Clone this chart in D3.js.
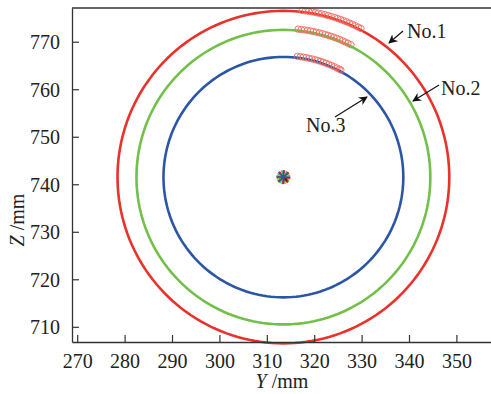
<!DOCTYPE html>
<html>
<head>
<meta charset="utf-8">
<script src="https://cdn.jsdelivr.net/npm/d3@7"></script>
<style>
  body { margin: 0; background: #fff; }
  text { font-family: "Liberation Serif", "DejaVu Serif", serif; fill: #222; }
</style>
</head>
<body>
<div id="chart"></div>
<script>
// rings: name, colour, radius (mm), centre
const ringNames = ["No.1", "No.2", "No.3"];
const ringColors = ["#e8322b", "#72c04a", "#2b56a6"];
const ringRadii = [35.0, 31.0, 25.3];
const centerY = 313.5, centerZ = 741.5;

// measured points on each ring, angle in degrees from the top (clockwise)
const markAngles = [
  [6.4, 7.6, 8.7, 9.9, 11.0, 12.1, 13.2, 14.4, 15.5, 16.6, 17.8, 18.9, 20.0, 21.1, 22.2, 23.3, 24.4, 25.5, 26.6, 27.6],
  [5.7, 6.9, 8.1, 9.3, 10.5, 11.6, 12.8, 14.0, 15.2, 16.4, 17.5, 18.7, 19.9, 21.1, 22.3, 23.5, 24.6, 25.8, 27.1],
  [6.6, 8.0, 9.4, 10.8, 12.2, 13.6, 15.0, 16.4, 17.8, 19.2, 20.6, 22.0, 23.4, 24.8, 26.2, 27.4, 28.3]
];

// centre estimates, spoke angles per colour
const spokeAngles = [
  [10, 55, 100, 145, 190, 235, 280, 325],
  [30, 75, 120, 165, 210, 255, 300, 345],
  [0, 45, 90, 135, 180, 225, 270, 315]
];

const xTicks = [270, 280, 290, 300, 310, 320, 330, 340, 350];
const yTicks = [710, 720, 730, 740, 750, 760, 770];

// annotation: label position, arrow tail and tip
const labels = [
  { name: "No.1", tx: 407, ty: 38, ax: 403, ay: 31, bx: 389, by: 43 },
  { name: "No.2", tx: 441, ty: 95, ax: 439, ay: 85, bx: 413, by: 101 },
  { name: "No.3", tx: 306, ty: 132, ax: 335, ay: 117, bx: 367, by: 97 }
];

const W = 491, H = 394;
const m = { left: 72, right: 491, top: 8, bottom: 342 };

const svg = d3.select("#chart").append("svg")
  .attr("width", W).attr("height", H);

const x = d3.scaleLinear().domain([268.9, 357.3]).range([m.left, m.right]);
const y = d3.scaleLinear().domain([706.8, 777.1]).range([m.bottom, m.top]);

svg.append("defs").append("marker")
  .attr("id", "arr")
  .attr("viewBox", "0 0 10 10")
  .attr("refX", 9).attr("refY", 5)
  .attr("markerWidth", 9).attr("markerHeight", 9)
  .attr("markerUnits", "userSpaceOnUse")
  .attr("orient", "auto")
  .append("path").attr("d", "M0,0 L10,5 L0,10 L3,5 Z").attr("fill", "#111");

// rings
const circ = d3.range(0, 361, 2);
ringRadii.forEach((r, i) => {
  const line = d3.line()
    .x(a => x(centerY + r * Math.sin(a * Math.PI / 180)))
    .y(a => y(centerZ + r * Math.cos(a * Math.PI / 180)));
  svg.append("path")
    .attr("d", line(circ))
    .attr("fill", "none")
    .attr("stroke", ringColors[i])
    .attr("stroke-width", 2.6);
});

// measured points
markAngles.forEach((angs, i) => {
  const r = ringRadii[i] + 0.3;
  svg.append("g").selectAll("circle")
    .data(angs)
    .join("circle")
    .attr("cx", a => x(centerY + r * Math.sin(a * Math.PI / 180)))
    .attr("cy", a => y(centerZ + r * Math.cos(a * Math.PI / 180)))
    .attr("r", 3.2)
    .attr("fill", "none")
    .attr("stroke", "#f06a5e")
    .attr("stroke-width", 0.9);
});

// centre star
spokeAngles.forEach((angs, i) => {
  svg.append("g").selectAll("line")
    .data(angs)
    .join("line")
    .attr("x1", x(centerY)).attr("y1", y(centerZ))
    .attr("x2", a => x(centerY) + 7 * Math.sin(a * Math.PI / 180))
    .attr("y2", a => y(centerZ) - 7 * Math.cos(a * Math.PI / 180))
    .attr("stroke", ringColors[i])
    .attr("stroke-width", 1.6);
});
svg.append("rect")
  .attr("x", x(centerY) + 1).attr("y", y(centerZ) + 1)
  .attr("width", 3).attr("height", 3)
  .attr("fill", "#7a1a14");

// axes
const xAxis = svg.append("g")
  .attr("transform", `translate(0,${m.bottom})`)
  .call(d3.axisBottom(x).tickValues(xTicks).tickSizeInner(-7).tickSizeOuter(0).tickPadding(12));
const yAxis = svg.append("g")
  .attr("transform", `translate(${m.left},0)`)
  .call(d3.axisLeft(y).tickValues(yTicks).tickSizeInner(-7).tickSizeOuter(0).tickPadding(12));
[xAxis, yAxis].forEach(g => {
  g.select(".domain").attr("stroke", "#333").attr("stroke-width", 1.3);
  g.selectAll(".tick line").attr("stroke", "#333").attr("stroke-width", 1.2);
  g.selectAll(".tick text")
    .attr("fill", "#222")
    .style("font-family", '"Liberation Serif", serif')
    .style("font-size", "20px");
});
yAxis.selectAll(".tick text").attr("dy", "0.34em");

svg.append("line")
  .attr("x1", m.left).attr("x2", m.right)
  .attr("y1", m.top).attr("y2", m.top)
  .attr("stroke", "#333").attr("stroke-width", 1.3);

// axis titles
const xt = svg.append("text")
  .attr("x", 282).attr("y", 388)
  .attr("text-anchor", "middle")
  .style("font-size", "20px");
xt.append("tspan").attr("font-style", "italic").text("Y");
xt.append("tspan").text(" /mm");

const yt = svg.append("text")
  .attr("transform", "translate(24,220) rotate(-90)")
  .attr("text-anchor", "middle")
  .style("font-size", "20px");
yt.append("tspan").attr("font-style", "italic").text("Z");
yt.append("tspan").text(" /mm");

// annotations
labels.forEach(d => {
  svg.append("line")
    .attr("x1", d.ax).attr("y1", d.ay)
    .attr("x2", d.bx).attr("y2", d.by)
    .attr("stroke", "#111").attr("stroke-width", 1.2)
    .attr("marker-end", "url(#arr)");
  svg.append("text")
    .attr("x", d.tx).attr("y", d.ty)
    .style("font-size", "20px")
    .text(d.name);
});
</script>
</body>
</html>
